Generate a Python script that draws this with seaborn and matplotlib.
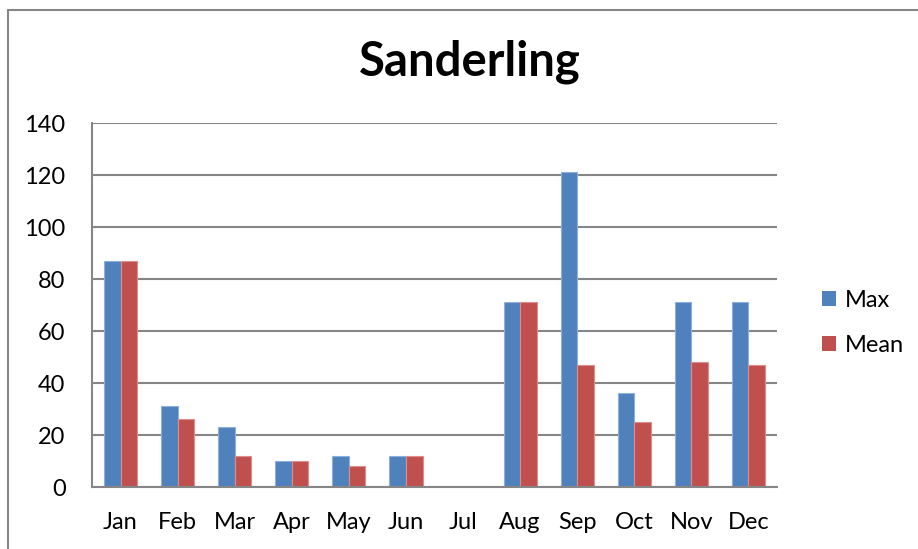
import matplotlib
matplotlib.use("Agg")
import matplotlib.pyplot as plt
import seaborn as sns
import pandas as pd
from matplotlib.lines import Line2D
from matplotlib.patches import Patch

months = ["Jan", "Feb", "Mar", "Apr", "May", "Jun", "Jul", "Aug", "Sep", "Oct", "Nov", "Dec"]
max_vals = [87, 31, 23, 10, 12, 12, 0, 71, 121, 36, 71, 71]
mean_vals = [87, 26, 12, 10, 8, 12, 0, 71, 47, 25, 48, 47]
series = ["Max", "Mean"]
colors = ["#4F81BD", "#C0504D"]
edges = ["#8EB0DC", "#DB8E8C"]
yticks = [0, 20, 40, 60, 80, 100, 120, 140]

df = pd.DataFrame({
    "Month": months * 2,
    "Value": max_vals + mean_vals,
    "Series": ["Max"] * len(months) + ["Mean"] * len(months),
})

sns.set_theme(style="white")
plt.rcParams["font.family"] = ["Lato", "DejaVu Sans"]
plt.rcParams["text.color"] = "black"

fig = plt.figure(figsize=(9.18, 5.49), dpi=100)
ax = fig.add_axes([92 / 918, 1 - 487 / 549, (777 - 92) / 918, (487 - 123) / 549])

sns.barplot(data=df, x="Month", y="Value", hue="Series", order=months,
            hue_order=series, palette=colors, width=0.58, ax=ax,
            legend=False, saturation=1)

for i, cont in enumerate(ax.containers):
    for p in cont:
        p.set_edgecolor(edges[i])
        p.set_linewidth(0.8)

ax.set_ylim(0, 140)
ax.set_xlim(-0.5, 11.5)
ax.set_yticks(yticks)
ax.set_yticklabels([str(t) for t in yticks])
ax.yaxis.grid(True, color="#868686", linewidth=1.5)
ax.set_axisbelow(True)
ax.set_xlabel("")
ax.set_ylabel("")
for s in ["top", "right"]:
    ax.spines[s].set_visible(False)
for s in ["left", "bottom"]:
    ax.spines[s].set_color("#868686")
    ax.spines[s].set_linewidth(1.5)
ax.tick_params(axis="y", length=0, pad=19, labelsize=17, colors="black")
ax.tick_params(axis="x", length=0, pad=18, labelsize=17, colors="black")

fig.suptitle("Sanderling", x=470 / 918, y=1 - 62 / 549, va="center",
             fontsize=34, fontweight="bold", color="black")

handles = [Patch(facecolor=c, edgecolor="none") for c in colors]
fig.legend(handles, series, loc="center left", bbox_to_anchor=(801 / 918, 1 - 323 / 549),
           frameon=False, fontsize=17, handlelength=0.6, handleheight=0.6,
           handletextpad=0.35, labelspacing=1.0)

# chart border
fig.add_artist(Line2D([8 / 918, 8 / 918], [0, 1 - 10 / 549], transform=fig.transFigure,
                      color="#868686", linewidth=1.5))
fig.add_artist(Line2D([8 / 918, 1], [1 - 10 / 549, 1 - 10 / 549], transform=fig.transFigure,
                      color="#868686", linewidth=1.5))

fig.savefig("out.png", dpi=100)
